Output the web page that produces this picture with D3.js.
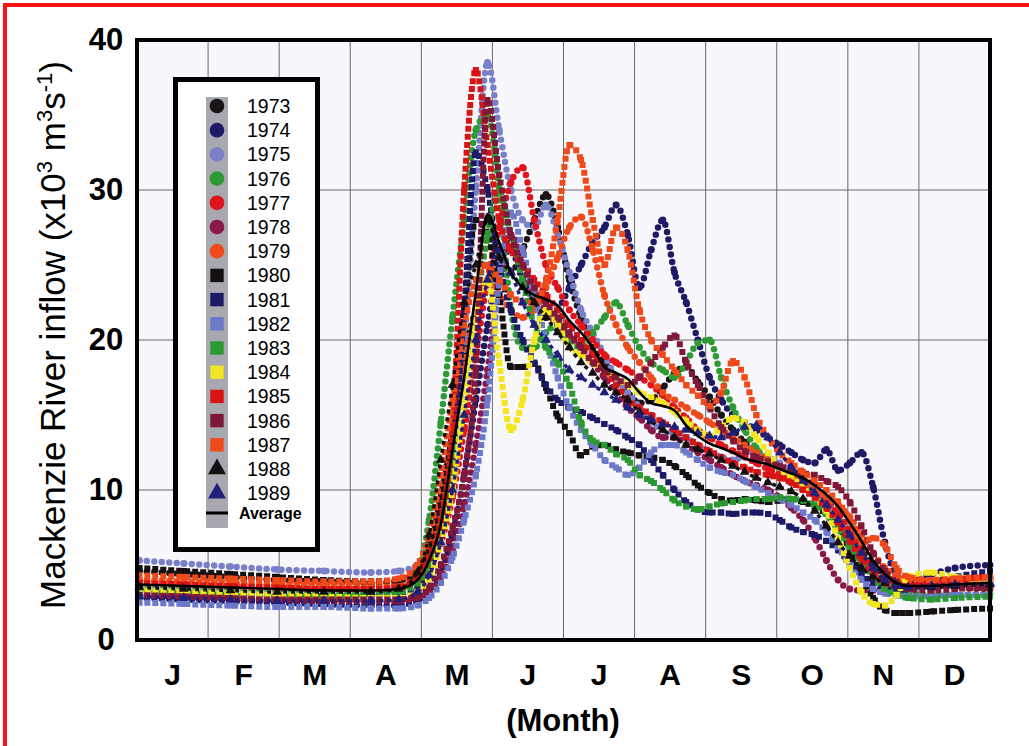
<!DOCTYPE html>
<html>
<head>
<meta charset="utf-8">
<script src="https://cdn.jsdelivr.net/npm/d3@7"></script>
<style>
  body { margin: 0; background: #fff; }
  svg { display: block; font-family: Arial, "Liberation Sans", sans-serif; }
</style>
</head>
<body>
<script>
const W = 1029, H = 746;
const plotL = 137, plotR = 990, plotT = 40, plotB = 640;

// ---- data ----
const months = ["J", "F", "M", "A", "M", "J", "J", "A", "S", "O", "N", "D"];
const yTicks = [0, 10, 20, 30, 40];
const gridY = [10, 20, 30];

// day of year of each sample
const days = [1, 20, 40, 60, 80, 100, 112, 120,
  125, 130, 135, 140, 145, 150, 155, 160, 165, 170,
  175, 180, 185, 190, 195, 200, 205, 210, 215, 220,
  225, 230, 235, 240, 245, 250, 255, 260, 265, 270,
  275, 280, 285, 290, 295, 300, 305, 310, 315, 320,
  325, 330, 340, 350, 365];

const years = ["1973", "1974", "1975", "1976", "1977", "1978", "1979", "1980", "1981",
  "1982", "1983", "1984", "1985", "1986", "1987", "1988", "1989"];
const colors = ["#1a1416", "#1e1a66", "#7a80c8", "#2e9a34", "#e0141a", "#8a1848", "#ee4a1c", "#141012", "#1c1a66",
  "#6c78c8", "#2a9a30", "#f2e620", "#d81414", "#801838", "#f04a1a", "#141012", "#20207a"];
const shapes = ["circle", "circle", "circle", "circle", "circle", "circle", "circle", "square", "square",
  "square", "square", "square", "square", "square", "square", "triangle", "triangle"];

// inflow, x10^3 m3/s
const flow1973 = [4.6, 4.4, 4.2, 4.0, 3.9, 3.8, 3.9, 4.8,
  6.5, 9.5, 14, 19, 22, 24, 25, 24.5, 26, 28,
  29.7, 27.5, 24, 21.5, 19.5, 18.5, 17.5, 16.5, 15.8, 16,
  16.8, 17.8, 18.2, 17.2, 16.2, 15, 14, 13.2, 12.6, 12,
  11.6, 11.2, 10.8, 10.2, 9.4, 8.4, 7.2, 6.0, 5.0, 4.3,
  3.9, 3.8, 3.9, 4.0, 4.2];
const flow1974 = [2.8, 2.7, 2.6, 2.5, 2.4, 2.3, 2.3, 2.6,
  3.2, 4.5, 7, 11, 16, 21, 25, 26, 24, 22.5,
  21.5, 22, 23.5, 25, 26.5, 27.5, 29, 27, 23.5, 26,
  28, 24.5, 22.5, 20, 17.5, 16, 15, 14.5, 14, 13.5,
  13, 12.5, 12, 11.8, 12.7, 11.3, 11.8, 12.5, 10.2, 6.5,
  4.3, 4.0, 4.4, 4.8, 5.0];
const flow1975 = [5.3, 5.1, 4.9, 4.7, 4.6, 4.5, 4.6, 5.0,
  6, 8.5, 13, 20, 30, 38.5, 34, 30, 28, 27.5,
  29, 27, 24.5, 22, 20.5, 19, 17.5, 16.5, 15.5, 14.5,
  14, 13.8, 13.5, 13, 12.5, 12.2, 12, 12.3, 12.5, 12.2,
  11.8, 11.2, 10.6, 10, 9.2, 8.0, 6.6, 5.3, 4.3, 3.8,
  3.6, 3.5, 3.6, 3.7, 3.8];
const flow1976 = [3.2, 3.1, 3.0, 2.9, 2.9, 3.0, 3.3, 4.5,
  8, 14.5, 21.5, 28, 34, 35, 30, 22, 19.5, 19.5,
  20.5, 21, 20, 19.5, 20.5, 21.5, 22.5, 21, 19.5, 18.5,
  18, 17.5, 18.5, 19.8, 20, 17.5, 15.5, 14, 12.8, 12,
  11.4, 10.8, 10.2, 9.6, 8.8, 7.8, 6.6, 5.4, 4.4, 3.8,
  3.4, 3.1, 3.0, 3.0, 3.1];
const flow1977 = [3.9, 3.8, 3.7, 3.6, 3.5, 3.5, 3.6, 4.0,
  4.8, 6.5, 9.5, 14, 19, 24, 27.5, 30.5, 31.5, 28,
  25, 23.5, 22, 21, 20, 19, 18.5, 18, 17.5, 17,
  16.3, 15.5, 14.8, 14, 13.5, 13, 12.6, 12.2, 11.8, 11.4,
  11, 10.5, 10.2, 9.8, 9.2, 8.4, 7.2, 5.8, 4.6, 4.0,
  3.8, 3.7, 3.8, 3.9, 4.0];
const flow1978 = [3.0, 2.9, 2.8, 2.7, 2.6, 2.6, 2.6, 2.8,
  3.2, 4.2, 6, 9, 13, 18, 24, 27, 25, 23,
  22, 21, 20.3, 19.5, 18.5, 17.5, 16.5, 15.5, 14.8, 14,
  13.5, 13.5, 13, 12.5, 12, 11.5, 11, 10.6, 10.3, 10,
  9.5, 8.8, 8.0, 6.8, 5.3, 4.0, 3.4, 3.3, 3.3, 3.4,
  3.5, 3.6, 3.7, 3.5, 3.4];
const flow1979 = [4.0, 3.9, 3.8, 3.7, 3.7, 3.7, 3.9, 4.6,
  6, 9, 13, 18, 22, 24, 23, 22, 21.5, 22,
  23.5, 25.5, 27.5, 28.2, 26, 23, 21, 19.5, 18.5, 17.5,
  16.5, 16, 15.5, 15, 14.5, 14, 13.5, 13, 12.5, 12,
  11.5, 11, 10.5, 10, 9.5, 9, 8.2, 7, 5.8, 4.8,
  4.3, 4.0, 3.9, 3.9, 4.0];
const flow1980 = [4.8, 4.6, 4.4, 4.2, 4.0, 3.9, 4.0, 4.6,
  6, 9, 14, 22, 28, 27, 23, 18.2, 18.2, 18.4,
  16.8, 14.9, 13.8, 12.3, 12.9, 13, 12.7, 12.5, 12.3, 12.2,
  12, 11.6, 11, 10.3, 9.8, 9.4, 9.3, 9.4, 9.3, 9.2,
  9.3, 9.4, 9.2, 8.9, 8.4, 7.5, 6.0, 4.3, 2.8, 2.0,
  1.8, 1.8, 1.9, 2.0, 2.1];
const flow1981 = [3.2, 3.1, 3.0, 2.9, 2.9, 2.9, 3.0, 3.5,
  4.5, 7, 12, 22, 32.5, 30, 25, 22, 20, 18.5,
  17, 16, 15.5, 15.2, 14.8, 14.4, 14, 13.5, 13, 12,
  11, 10, 9.2, 8.7, 8.5, 8.5, 8.4, 8.5, 8.5, 8.4,
  8.0, 7.5, 7.2, 7.0, 6.6, 6.0, 5.2, 4.4, 3.8, 3.4,
  3.3, 3.4, 3.8, 4.2, 4.6];
const flow1982 = [2.5, 2.4, 2.3, 2.2, 2.2, 2.1, 2.1, 2.3,
  2.8, 3.8, 5.5, 8, 11, 16, 24, 28.5, 26, 23,
  20, 17.5, 15.5, 14, 13, 12, 11.5, 11, 11.5, 12.5,
  13, 13, 12.5, 12, 11.5, 11.2, 11, 10.6, 10.2, 9.8,
  9.4, 9.0, 8.5, 8.0, 7.2, 6.2, 5.0, 4.0, 3.4, 3.1,
  3.0, 2.9, 2.9, 3.0, 3.0];
const flow1983 = [3.4, 3.3, 3.2, 3.1, 3.0, 3.0, 3.2, 3.8,
  5, 7.5, 11, 16, 22, 27, 30, 27, 24, 21,
  19.5, 18.5, 17, 14.5, 13.3, 13, 12.4, 12, 11, 10.6,
  10, 9.3, 8.9, 8.7, 8.9, 9.1, 9.2, 9.3, 9.4, 9.4,
  9.5, 9.4, 9.3, 9.0, 8.4, 7.4, 6.2, 5.2, 4.2, 3.4,
  3.0, 2.8, 2.7, 2.8, 2.9];
const flow1984 = [3.3, 3.2, 3.1, 3.0, 2.9, 2.8, 2.8, 3.2,
  4.2, 6.5, 10, 16, 22, 24, 18.5, 14, 16, 20,
  22, 21, 19.5, 19, 18.5, 18, 17.5, 17, 16.5, 16.2,
  15.8, 15.2, 14.6, 14, 13.6, 14.2, 14.8, 14.5, 13.5, 12.5,
  11.5, 10.8, 10.2, 9.6, 8.6, 6.8, 4.8, 3.2, 2.4, 2.3,
  3.0, 4.2, 4.5, 4.2, 4.0];
const flow1985 = [3.8, 3.7, 3.6, 3.5, 3.4, 3.4, 3.5, 4.2,
  5.5, 8, 14, 30, 38, 33, 28, 26, 25, 24,
  23, 22, 21, 20, 19, 18, 17, 16, 15.5, 15,
  14.5, 14, 13.5, 13, 12.6, 12.2, 11.8, 11.5, 11.2, 11,
  10.8, 10.5, 10, 9.5, 8.8, 7.8, 6.6, 5.4, 4.4, 3.8,
  3.6, 3.6, 3.8, 4.0, 4.2];
const flow1986 = [3.0, 2.9, 2.8, 2.7, 2.7, 2.7, 2.7, 2.9,
  3.5, 5, 7.5, 11, 18, 36, 31, 27, 25, 23.5,
  22.5, 21.5, 20.5, 19.5, 18.5, 18, 17.5, 17, 17.5, 18.5,
  19.5, 20.3, 18.5, 17, 15.5, 14.2, 13.3, 12.6, 12.2, 11.9,
  11.6, 11.3, 11.1, 11, 10.6, 10.2, 9.2, 7.6, 5.8, 4.6,
  3.8, 3.4, 3.3, 3.4, 3.5];
const flow1987 = [4.3, 4.2, 4.1, 4.0, 3.9, 3.9, 4.1, 5.0,
  7, 11, 16, 21, 24, 25, 24, 23, 22.5, 22.5,
  24, 28, 33, 32, 28, 25, 27.5, 26, 22, 20,
  19, 18, 17, 16.3, 15.6, 16.5, 18.6, 17.5, 15, 13.5,
  12.5, 11.8, 11.2, 10.6, 10, 9.2, 8, 6.5, 6.8, 6.3,
  4.8, 4.2, 4.0, 4.1, 4.2];
const flow1988 = [3.5, 3.4, 3.3, 3.2, 3.2, 3.2, 3.4, 4.5,
  7, 12, 17, 22.5, 25, 28, 25.5, 24.5, 23.5, 22.5,
  21.5, 20.5, 19.5, 18.5, 17.8, 17, 16.5, 16, 15.2, 14.6,
  14, 13.5, 13, 12.7, 12.4, 12, 11.6, 11.2, 10.8, 10.5,
  10.2, 9.9, 9.4, 8.6, 7.6, 6.5, 5.6, 4.8, 4.2, 3.8,
  3.6, 3.5, 3.5, 3.6, 3.7];
const flow1989 = [2.9, 2.8, 2.7, 2.6, 2.6, 2.6, 2.7, 3.2,
  4.3, 6.5, 10, 15, 20, 24, 26, 24.5, 22.5, 21,
  20, 19, 18, 17.5, 17, 16.5, 16, 15.5, 15, 14.7,
  14.4, 14.2, 14, 13.8, 13.6, 13.5, 13.8, 14.2, 14.3, 13.5,
  12.5, 11.5, 10.6, 9.8, 9.0, 8.0, 7.0, 5.8, 4.8, 4.0,
  3.6, 3.5, 3.6, 3.7, 3.8];
const average = [3.7, 3.6, 3.5, 3.4, 3.3, 3.3, 3.4, 4.0,
  5.3, 7.7, 12.7, 17.5, 23.2, 28.4, 26.5, 24.5, 23.5, 23.0,
  22.7, 22.3, 21.3, 20.5, 19.5, 18.2, 17.8, 17.4, 16.5, 15.8,
  15.6, 15.3, 14.3, 13.6, 13.1, 12.8, 12.5, 12.1, 11.9, 11.7,
  11.4, 11.1, 10.8, 10.3, 9.7, 8.9, 7.8, 6.6, 5.3, 4.4,
  3.8, 3.6, 3.6, 3.7, 3.8];

const flows = [flow1973, flow1974, flow1975, flow1976, flow1977, flow1978, flow1979, flow1980, flow1981,
  flow1982, flow1983, flow1984, flow1985, flow1986, flow1987, flow1988, flow1989];

// ---- scales ----
const x = d3.scaleLinear().domain([0, 365]).range([plotL, plotR]);
const xm = d3.scaleBand().domain(d3.range(12)).range([plotL, plotR]);
const y = d3.scaleLinear().domain([0, 40]).range([plotB, plotT]);

const svg = d3.select("body").append("svg")
  .attr("width", W)
  .attr("height", H);

svg.append("rect").attr("width", W).attr("height", H).attr("fill", "#fff");

// red page frame
svg.append("rect")
  .attr("x", 5).attr("y", 5)
  .attr("width", W + 40).attr("height", H + 40)
  .attr("fill", "none").attr("stroke", "#ff1010").attr("stroke-width", 4);

// plot background
svg.append("rect")
  .attr("x", plotL).attr("y", plotT)
  .attr("width", plotR - plotL).attr("height", plotB - plotT)
  .attr("fill", "#f8f8fc");

// grid
svg.append("g").selectAll("line")
  .data(d3.range(1, 12))
  .join("line")
  .attr("x1", d => xm(d)).attr("x2", d => xm(d))
  .attr("y1", plotT).attr("y2", plotB)
  .attr("stroke", "#6a6a6a").attr("stroke-width", 1);

svg.append("g").selectAll("line")
  .data(gridY)
  .join("line")
  .attr("x1", plotL).attr("x2", plotR)
  .attr("y1", d => y(d)).attr("y2", d => y(d))
  .attr("stroke", "#6a6a6a").attr("stroke-width", 1);

// series
const line = d3.line()
  .x(d => x(d[0]))
  .y(d => y(d[1]))
  .curve(d3.curveMonotoneX);

const symType = { circle: d3.symbolCircle, square: d3.symbolSquare, triangle: d3.symbolTriangle };
const symSize = { circle: 38, square: 36, triangle: 42 };

const series = svg.append("g");
flows.forEach((vals, i) => {
  const pts = days.map((d, j) => [d, vals[j]]);
  const shape = shapes[i];
  const g = series.append("g");
  const p = g.append("path")
    .attr("d", line(pts))
    .attr("fill", "none")
    .attr("stroke", colors[i]);
  if (shape === "circle") {
    p.attr("stroke-width", 6.5).attr("stroke-linecap", "round").attr("stroke-dasharray", "0 7.5");
  } else if (shape === "square") {
    p.attr("stroke-width", 6).attr("stroke-linecap", "square").attr("stroke-dasharray", "0 8");
  } else {
    p.attr("stroke-width", 3.5).attr("stroke-dasharray", "4 4");
  }
  g.selectAll("path.pt")
    .data(pts)
    .join("path")
    .attr("class", "pt")
    .attr("transform", d => `translate(${x(d[0])},${y(d[1])})`)
    .attr("d", d3.symbol(symType[shape], symSize[shape]))
    .attr("fill", colors[i]);
});

// average
svg.append("path")
  .attr("d", line(days.map((d, j) => [d, average[j]])))
  .attr("fill", "none")
  .attr("stroke", "#000")
  .attr("stroke-width", 2.6);

// frame
svg.append("rect")
  .attr("x", plotL).attr("y", plotT)
  .attr("width", plotR - plotL).attr("height", plotB - plotT)
  .attr("fill", "none").attr("stroke", "#000").attr("stroke-width", 4);

// axes
const yAxis = svg.append("g")
  .attr("transform", `translate(${plotL},0)`)
  .call(d3.axisLeft(y).tickValues(yTicks).tickSize(0).tickPadding(20));
yAxis.select(".domain").remove();
yAxis.selectAll("text")
  .attr("x", -31)
  .attr("text-anchor", "middle")
  .attr("font-size", 31)
  .attr("font-weight", "bold")
  .attr("font-family", "Arial, 'Liberation Sans', sans-serif")
  .attr("fill", "#000");

const xAxis = svg.append("g")
  .attr("transform", `translate(0,${plotB})`)
  .call(d3.axisBottom(xm).tickSize(0).tickPadding(24).tickFormat(i => months[i]));
xAxis.select(".domain").remove();
xAxis.selectAll("text")
  .attr("font-size", 30)
  .attr("font-weight", "bold")
  .attr("font-family", "Arial, 'Liberation Sans', sans-serif")
  .attr("fill", "#000");

// axis titles
svg.append("text")
  .attr("x", 563).attr("y", 731)
  .attr("text-anchor", "middle")
  .attr("font-size", 31)
  .attr("font-weight", "bold")
  .text("(Month)");

const yt = svg.append("text")
  .attr("transform", "translate(65,335) rotate(-90)")
  .attr("text-anchor", "middle")
  .attr("font-size", 35);
yt.append("tspan").text("Mackenzie River inflow (x10");
yt.append("tspan").attr("dy", -13).attr("font-size", 22).text("3");
yt.append("tspan").attr("dy", 13).text(" m");
yt.append("tspan").attr("dy", -13).attr("font-size", 22).text("3");
yt.append("tspan").attr("dy", 13).text("s");
yt.append("tspan").attr("dy", -13).attr("font-size", 22).text("-1");
yt.append("tspan").attr("dy", 13).text(")");

// legend
const lg = svg.append("g");
lg.append("rect")
  .attr("x", 175.5).attr("y", 79.5)
  .attr("width", 142).attr("height", 470)
  .attr("fill", "#fff").attr("stroke", "#000").attr("stroke-width", 5);
lg.append("rect")
  .attr("x", 206).attr("y", 97)
  .attr("width", 22).attr("height", 431)
  .attr("fill", "#a8a8b0");

const legSize = { circle: 170, square: 180, triangle: 140 };
const rowY = i => 106 + i * 24.2;
years.forEach((yr, i) => {
  lg.append("path")
    .attr("transform", `translate(217,${rowY(i)})`)
    .attr("d", d3.symbol(symType[shapes[i]], legSize[shapes[i]]))
    .attr("fill", colors[i]);
  lg.append("text")
    .attr("x", 247).attr("y", rowY(i) + 7)
    .attr("font-size", 19.5)
    .text(yr);
});
lg.append("line")
  .attr("x1", 206).attr("x2", 228)
  .attr("y1", 513).attr("y2", 513)
  .attr("stroke", "#000").attr("stroke-width", 3);
lg.append("text")
  .attr("x", 239).attr("y", 519)
  .attr("font-size", 16)
  .attr("font-weight", "bold")
  .text("Average");
</script>
</body>
</html>
